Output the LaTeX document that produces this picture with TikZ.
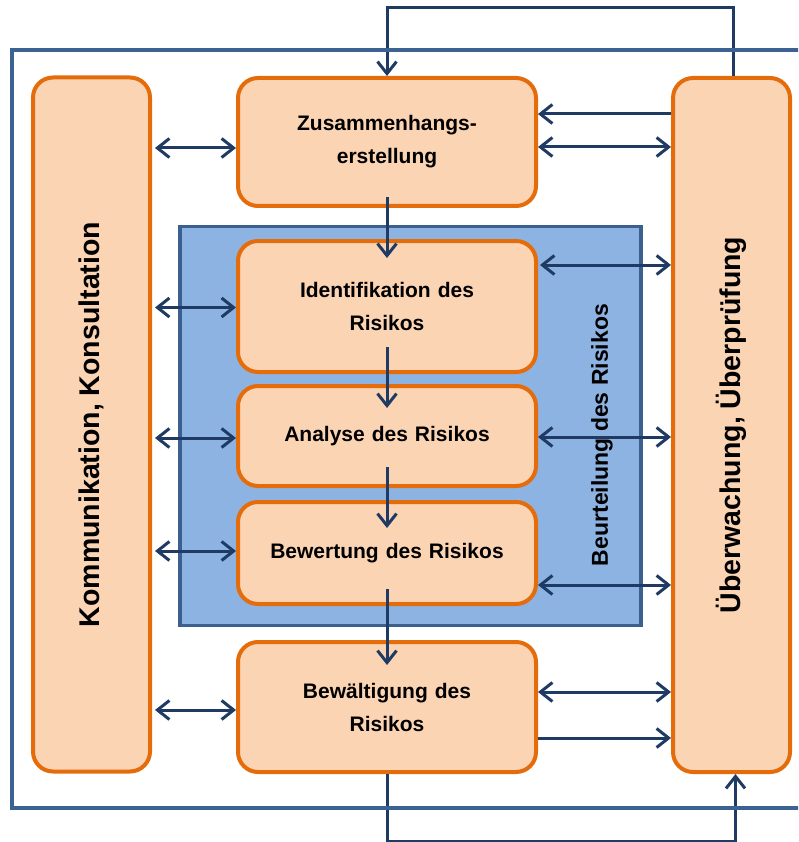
\documentclass[tikz,border=0pt]{standalone}
\usepackage{fontspec}
\setmainfont{Liberation Sans}
\usetikzlibrary{arrows.meta,calc}
\definecolor{orng}{HTML}{E46C0A}
\definecolor{peach}{HTML}{FBD4B4}
\definecolor{zonefill}{HTML}{8DB3E2}
\definecolor{zoneline}{HTML}{3B5F8E}
\definecolor{framecol}{HTML}{3C6293}
\definecolor{navy}{HTML}{1F3B64}
\begin{document}
\begin{tikzpicture}[x=1pt,y=-1pt,
  stepbox/.style={draw=orng, fill=peach, line width=4pt, rounded corners=20pt,
    minimum width=298pt, inner sep=0pt, align=center, text width=280pt,
    font=\bfseries\fontsize{21}{33}\selectfont},
  colbox/.style={draw=orng, fill=peach, line width=4pt, rounded corners=20pt,
    minimum width=117pt, minimum height=694pt, inner sep=0pt,
    font=\bfseries\fontsize{28.5}{34}\selectfont},
  zone/.style={draw=zoneline, fill=zonefill, line width=3.5pt,
    minimum width=461pt, minimum height=399pt, inner sep=0pt},
  arr/.style={draw=navy, line width=3pt, -{Straight Barb[length=12pt,width=19pt]}},
  dbl/.style={draw=navy, line width=3pt, {Straight Barb[length=12pt,width=19pt]}-{Straight Barb[length=12pt,width=19pt]}},
  frame/.style={draw=framecol, line width=4pt}]
\clip (0,0) rectangle (798,842);

% side columns
\node[colbox] (kom) at (91.5,424.5) {\rotatebox{90}{Kommunikation, Konsultation}};
\node[colbox] (ueb) at (731.5,425) {\rotatebox{90}{Überwachung, Überprüfung}};

% risk assessment zone
\node[zone] (zone) at (410.5,426) {};
\node[font=\bfseries\fontsize{23}{28}\selectfont] (zonelabel) at (602,435)
  {\rotatebox{90}{Beurteilung des Risikos}};

% process steps
\node[stepbox, minimum height=128pt] (zus)   at (387,142)   {Zusammenhangs-\\erstellung};
\node[stepbox, minimum height=131pt] (ident) at (387,306.5) {Identifikation des\\Risikos};
\node[stepbox, minimum height=100pt] (ana)   at (387,436)   {Analyse des Risikos};
\node[stepbox, minimum height=102pt] (bew)   at (387,553)   {Bewertung des Risikos};
\node[stepbox, minimum height=130pt] (bwl)   at (387,707)   {Bewältigung des\\Risikos};

% feedback loops
\draw[arr] ([xshift=1.5pt]ueb.north) -- ++(0,-68) -| (zus.north);
\draw[arr] (bwl.south) -- ++(0,67) -| ([xshift=4pt]ueb.south);

% outer frame
\draw[frame] (12,50) rectangle (820,808);

% main flow
\draw[arr] ($(zus.south)+(0,-11)$)   -- ($(ident.north)+(0,19)$);
\draw[arr] ($(ident.south)+(0,-27)$) -- ($(ana.north)+(0,24)$);
\draw[arr] ($(ana.south)+(0,-21)$)   -- ($(bew.north)+(0,28)$);
\draw[arr] ($(bew.south)+(0,-17)$)   -- ($(bwl.north)+(0,25)$);

% communication links
\draw[dbl, shorten <=3pt] ($(kom.east |- zus.west)+(0,6)$)   -- ($(zus.west)+(0,6)$);
\draw[dbl, shorten <=3pt] ($(kom.east |- ident.west)+(0,1)$) -- ($(ident.west)+(0,1)$);
\draw[dbl, shorten <=3pt] ($(kom.east |- ana.west)+(0,2)$)   -- ($(ana.west)+(0,2)$);
\draw[dbl, shorten <=3pt] ($(kom.east |- bew.west)+(0,-2)$)  -- ($(bew.west)+(0,-2)$);
\draw[dbl, shorten <=3pt] ($(kom.east |- bwl.west)+(0,3)$)   -- ($(bwl.west)+(0,3)$);

% monitoring links
\draw[arr] ($(ueb.west |- zus.east)+(0,-28)$) -- ($(zus.east)+(0,-28)$);
\draw[dbl] ($(zus.east)+(0,5)$)      -- ($(ueb.west |- zus.east)+(0,5)$);
\draw[dbl, shorten <=2pt] ($(ident.east)+(0,-41.5)$) -- ($(ueb.west |- ident.east)+(0,-41.5)$);
\draw[dbl] ($(ana.east)+(0,1)$)      -- ($(ueb.west |- ana.east)+(0,1)$);
\draw[dbl] ($(bew.east)+(0,32)$)     -- ($(ueb.west |- bew.east)+(0,32)$);
\draw[dbl] ($(bwl.east)+(0,-15)$)    -- ($(ueb.west |- bwl.east)+(0,-15)$);
\draw[arr] ($(bwl.east)+(0,31)$)     -- ($(ueb.west |- bwl.east)+(0,31)$);
\end{tikzpicture}
\end{document}
